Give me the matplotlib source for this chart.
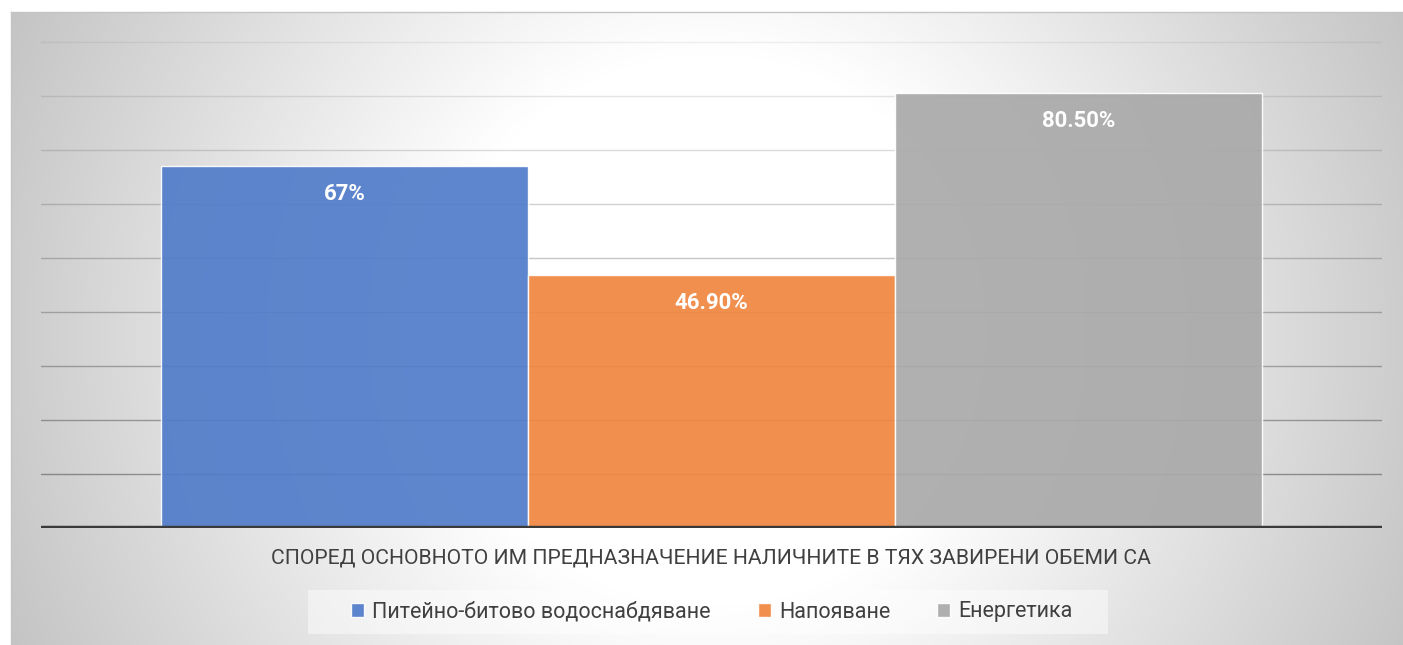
import numpy as np
import matplotlib.pyplot as plt
from matplotlib.patches import Rectangle

plt.rcParams['font.family'] = ['Roboto', 'DejaVu Sans']

# data
series = ["Питейно-битово водоснабдяване", "Напояване", "Енергетика"]
values = [67, 46.9, 80.5]
labels = ["67%", "46.90%", "80.50%"]
colors = ["#507CCA", "#F08640", "#A9A9A9"]
axis_title = "СПОРЕД ОСНОВНОТО ИМ ПРЕДНАЗНАЧЕНИЕ НАЛИЧНИТЕ В ТЯХ ЗАВИРЕНИ ОБЕМИ СА"
grid_levels = [10, 20, 30, 40, 50, 60, 70, 80, 90]

W, H = 1403, 645
fig = plt.figure(figsize=(W / 100, H / 100), dpi=100)

# background: radial gradient inside the chart frame
bg = fig.add_axes([0, 0, 1, 1], zorder=0)
yy, xx = np.mgrid[0:H, 0:W]
r = np.hypot(xx - 710, yy - 330)
val = 255 - 0.12 * np.clip(r - 276, 0, None)
img = np.repeat((val / 255.0)[:, :, None], 3, axis=2)
img[:12, :, :] = 1.0
img[:, :11, :] = 1.0
bg.imshow(img, extent=(0, W, H, 0), aspect='auto', interpolation='bilinear')
bg.plot([11, W], [12, 12], color="#c4c4c4", lw=1)
bg.plot([11, 11], [12, H], color="#c4c4c4", lw=1)
bg.set_xlim(0, W)
bg.set_ylim(H, 0)
bg.axis('off')

# legend box
bg.add_patch(Rectangle((308, 590), 800, 44, facecolor="white", alpha=0.45, edgecolor="none"))

ax = fig.add_axes([41 / W, (H - 528) / H, 1341 / W, 513 / H], zorder=1)
ax.patch.set_alpha(0)

xs = np.array([-1, 0, 1])
bars = []
for x, v, c, s in zip(xs, values, colors, series):
    b = ax.bar(x, v, width=1.0, color=c, alpha=0.92, edgecolor=(1, 1, 1, 0.6),
               linewidth=1, label=s, zorder=2)
    bars.append(b)

# gridlines darken towards the bottom
for g in grid_levels:
    a = 0.5 - 0.42 * (g - 10) / 80
    ax.axhline(g, color="#404040", alpha=a, lw=1, zorder=1)
ax.axhline(0, color="#3a3a3a", lw=3.2, zorder=3)

for x, v, lab in zip(xs, values, labels):
    ax.text(x, v - 5.2, lab, ha='center', va='center', color='white',
            fontsize=16, fontweight='bold', zorder=4)

ax.set_xlim(-1.827, 1.827)
ax.set_ylim(0, 95)
ax.set_xticks([])
ax.set_yticks([])
for sp in ax.spines.values():
    sp.set_visible(False)

fig.text(711 / W, (H - 558) / H, axis_title, ha='center', va='center',
         fontsize=15.2, color="#404040")

leg = fig.legend(handles=bars, labels=series, loc='center', ncol=3,
                 bbox_to_anchor=(712 / W, (H - 612) / H), frameon=False,
                 fontsize=15.5, handlelength=0.6, handleheight=0.6,
                 handletextpad=0.37, columnspacing=2.2, labelcolor="#404040")

fig.savefig("out.png", dpi=100)
